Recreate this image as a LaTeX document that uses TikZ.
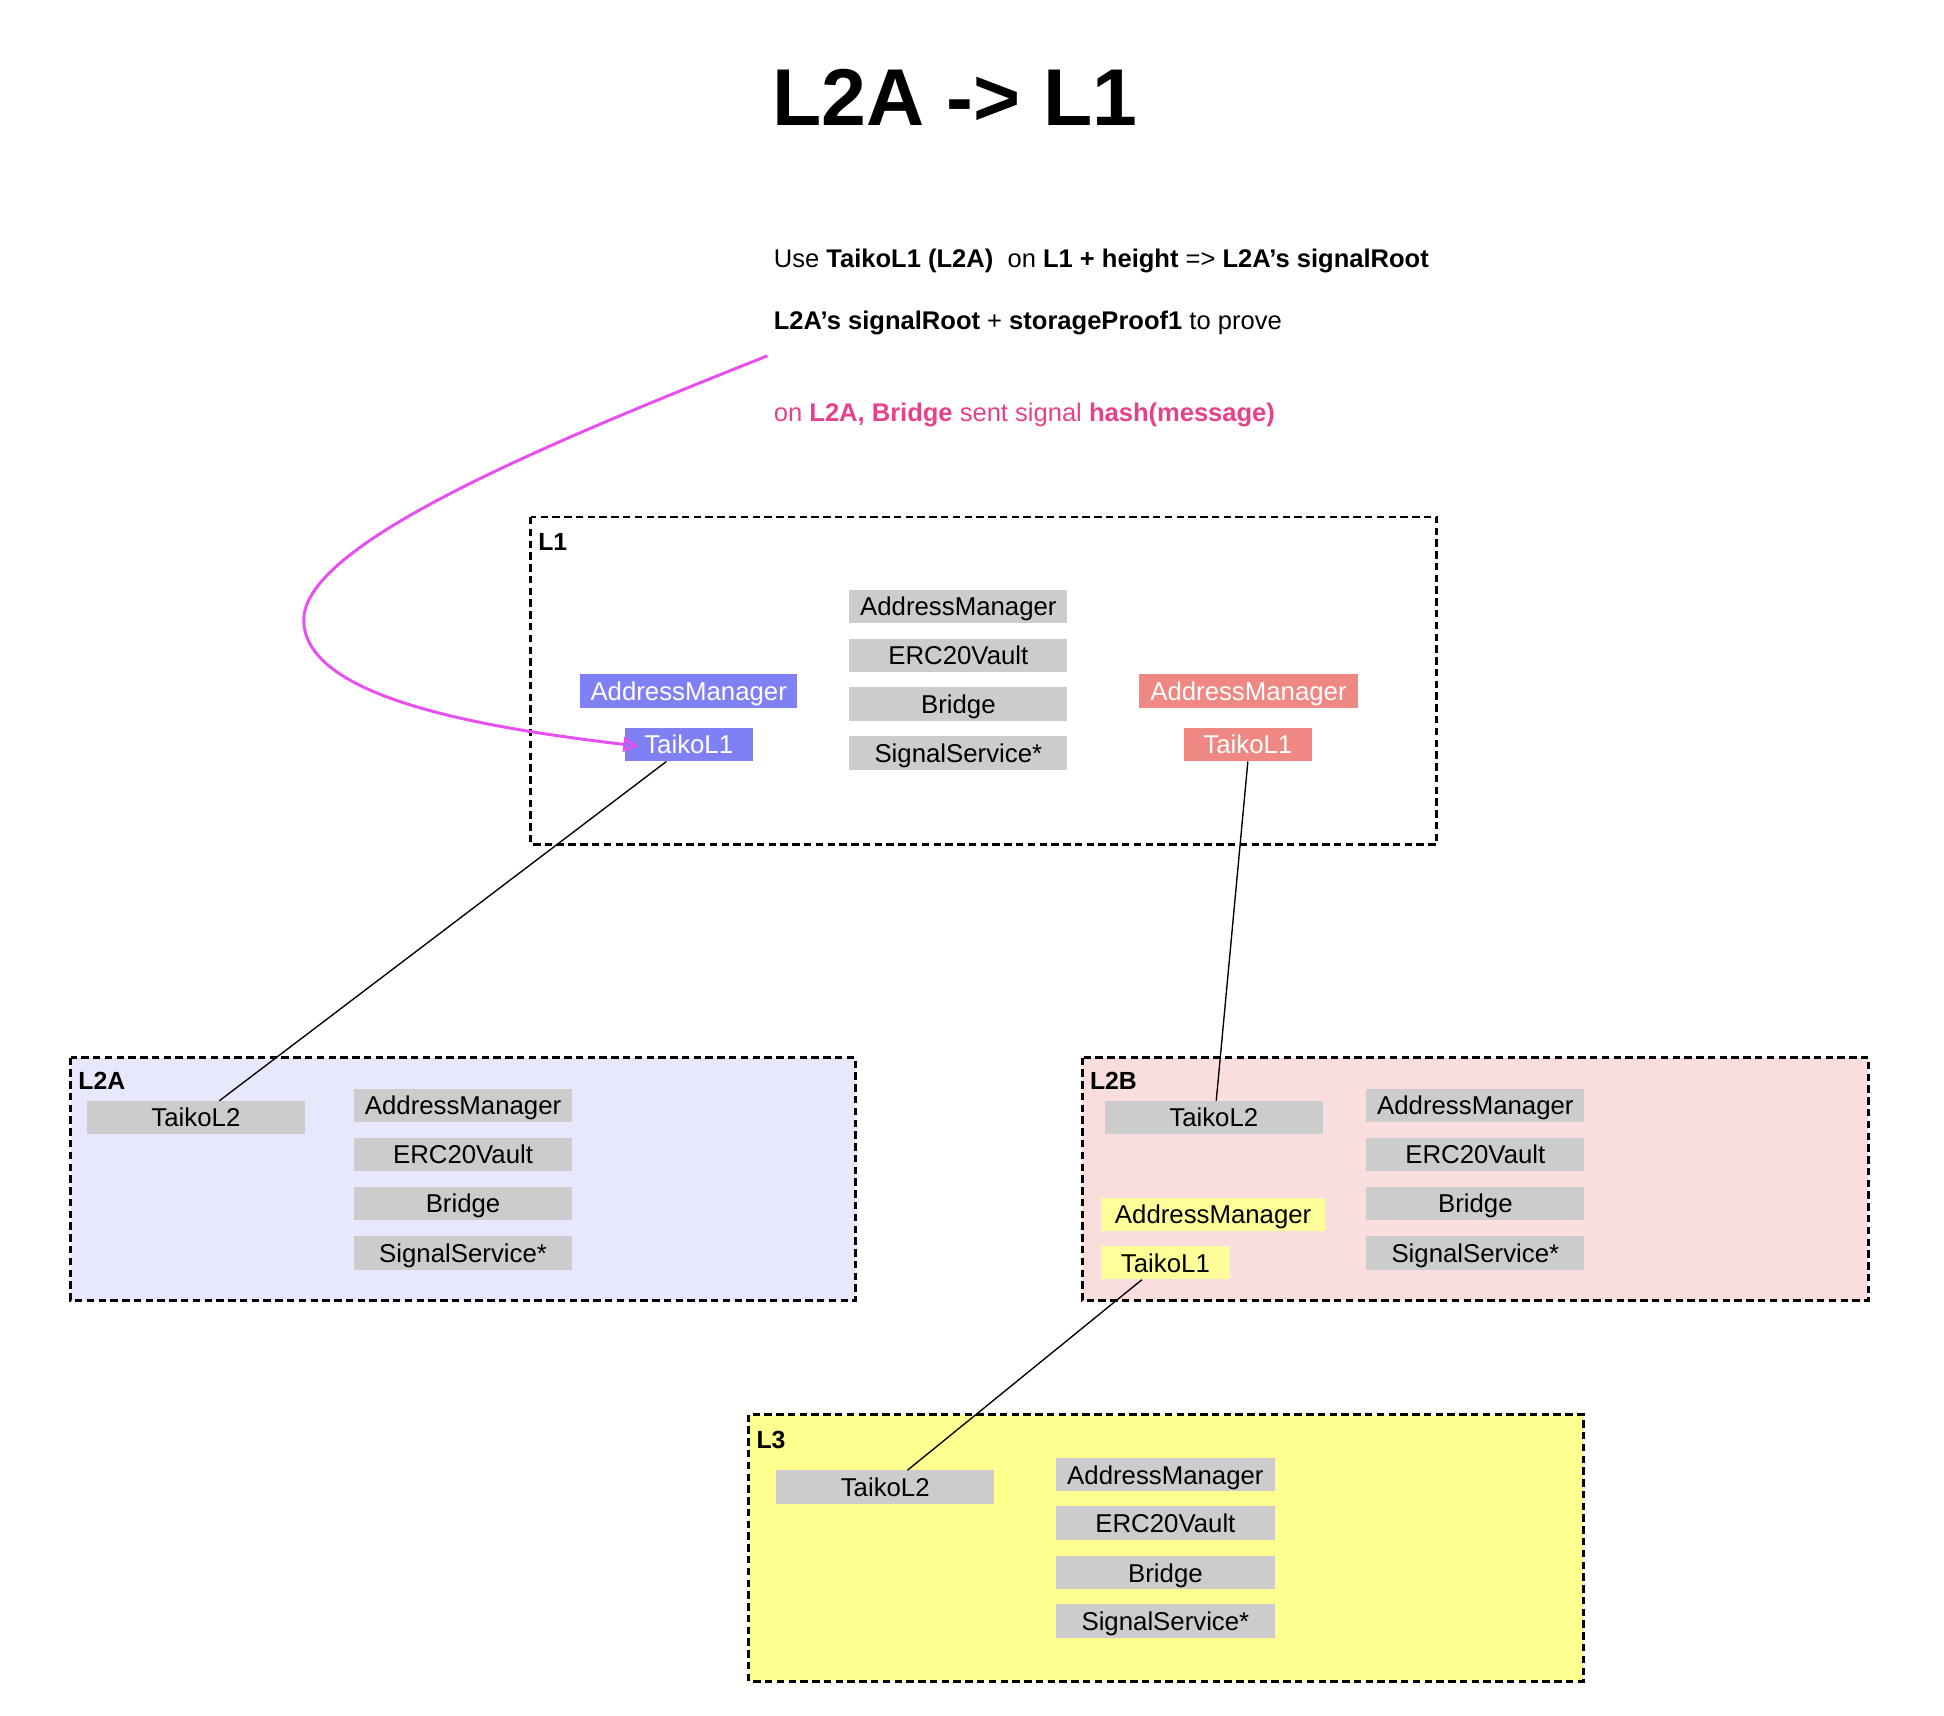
\documentclass[tikz,border=0pt]{standalone}
\usepackage{fontspec}
\setmainfont{Liberation Sans}
\usetikzlibrary{arrows.meta}
\definecolor{boxgray}{HTML}{CCCCCC}
\definecolor{boxblue}{HTML}{8080F5}
\definecolor{boxred}{HTML}{EF8783}
\definecolor{boxyellow}{HTML}{FFFF99}
\definecolor{fillA}{HTML}{E8E8FC}
\definecolor{fillB}{HTML}{FADEDE}
\definecolor{fillC}{HTML}{FFFF8F}
\definecolor{pinktext}{HTML}{E6418A}
\definecolor{curvecol}{HTML}{E84FF0}
\begin{document}
\begin{tikzpicture}[x=1pt,y=-1pt,
  cbox/.style={inner sep=0pt, minimum height=27pt, text height=15pt, text depth=0pt, font=\fontsize{20.8}{24}\selectfont},
  gbox/.style={cbox, fill=boxgray, text=black},
  bbox/.style={cbox, fill=boxblue, text=white},
  rbox/.style={cbox, fill=boxred, text=white},
  ybox/.style={cbox, fill=boxyellow, text=black},
  group/.style={draw=black, line width=2.4pt, dash pattern=on 6pt off 3.5pt},
  grouplabel/.style={anchor=base west, inner sep=0pt, font=\fontsize{20}{24}\selectfont\bfseries},
  link/.style={draw=black, line width=1.1pt},
  note/.style={anchor=base west, inner sep=0pt, font=\fontsize{20.6}{24}\selectfont}
]
\useasboundingbox (0,0) rectangle (1568,1384);

% title
\node[anchor=base, inner sep=0pt, font=\fontsize{65}{70}\selectfont\bfseries] (title) at (770,101) {L2A -> L1};

% notes
\node[note] (n1) at (624,216) {Use \textbf{TaikoL1 (L2A)}\ \ on \textbf{L1 + height} => \textbf{L2A’s signalRoot}};
\node[note] (n2) at (624,266) {\textbf{L2A’s signalRoot} + \textbf{storageProof1} to prove};
\node[note, text=pinktext] (n3) at (624,340) {on \textbf{L2A, Bridge} sent signal \textbf{hash(message)}};
\coordinate (cstart) at (619,287);

% group boxes
\draw[group] (428,417) rectangle (1159,681);
\node[grouplabel] (l1lab) at (434,444) {L1};
\draw[group, fill=fillA] (57,853) rectangle (690,1049);
\node[grouplabel] (l2alab) at (63,879) {L2A};
\draw[group, fill=fillB] (873,853) rectangle (1507,1049);
\node[grouplabel] (l2blab) at (879,879) {L2B};
\draw[group, fill=fillC] (604,1141) rectangle (1277,1356);
\node[grouplabel] (l3lab) at (610,1168) {L3};

% L1 contents
\node[gbox, minimum width=176pt] (l1am) at (773,489) {AddressManager};
\node[gbox, minimum width=176pt] (l1ev) at (773,528.5) {ERC20Vault};
\node[gbox, minimum width=176pt] (l1br) at (773,568) {Bridge};
\node[gbox, minimum width=176pt] (l1ss) at (773,607.5) {SignalService*};
\node[bbox, minimum width=175pt] (bam) at (555.5,557.5) {AddressManager};
\node[bbox, minimum width=103pt] (bt1) at (555.5,600.5) {TaikoL1};
\node[rbox, minimum width=176pt] (ram) at (1007,557.5) {AddressManager};
\node[rbox, minimum width=103pt] (rt1) at (1006.5,600.5) {TaikoL1};

% L2A contents
\node[gbox, minimum width=176pt] (at2) at (158,901.5) {TaikoL2};
\node[gbox, minimum width=176pt] (aam) at (373.5,891.5) {AddressManager};
\node[gbox, minimum width=176pt] (aev) at (373.5,931) {ERC20Vault};
\node[gbox, minimum width=176pt] (abr) at (373.5,970.5) {Bridge};
\node[gbox, minimum width=176pt] (ass) at (373.5,1010.5) {SignalService*};

% L2B contents
\node[gbox, minimum width=176pt] (bt2) at (979,901.5) {TaikoL2};
\node[gbox, minimum width=176pt] (bbam) at (1190,891.5) {AddressManager};
\node[gbox, minimum width=176pt] (bbev) at (1190,931) {ERC20Vault};
\node[gbox, minimum width=176pt] (bbbr) at (1190,970.5) {Bridge};
\node[gbox, minimum width=176pt] (bbss) at (1190,1010.5) {SignalService*};
\node[ybox, minimum width=181pt] (yam) at (978.5,979.5) {AddressManager};
\node[ybox, minimum width=104pt] (yt1) at (940,1018.5) {TaikoL1};

% L3 contents
\node[gbox, minimum width=176pt] (ct2) at (714,1199.5) {TaikoL2};
\node[gbox, minimum width=176pt] (cam) at (940,1189.5) {AddressManager};
\node[gbox, minimum width=176pt] (cev) at (940,1228.5) {ERC20Vault};
\node[gbox, minimum width=176pt] (cbr) at (940,1268.5) {Bridge};
\node[gbox, minimum width=176pt] (css) at (940,1307.5) {SignalService*};

% connectors
\draw[link] ([xshift=-18pt]bt1.south) -- ([xshift=19pt]at2.north);
\draw[link] (rt1.south) -- ([xshift=2pt]bt2.north);
\draw[link] ([xshift=-19pt]yt1.south) -- ([xshift=18pt]ct2.north);

% curved arrow
\draw[draw=curvecol, line width=2.4pt, -{Triangle[open, length=12pt, width=12pt, line width=2.2pt]}, shorten >=-11pt]
  (cstart) .. controls (430,362) and (245,440) .. (245,500)
  .. controls (245,565) and (400,588) .. (bt1.west);
\end{tikzpicture}
\end{document}
